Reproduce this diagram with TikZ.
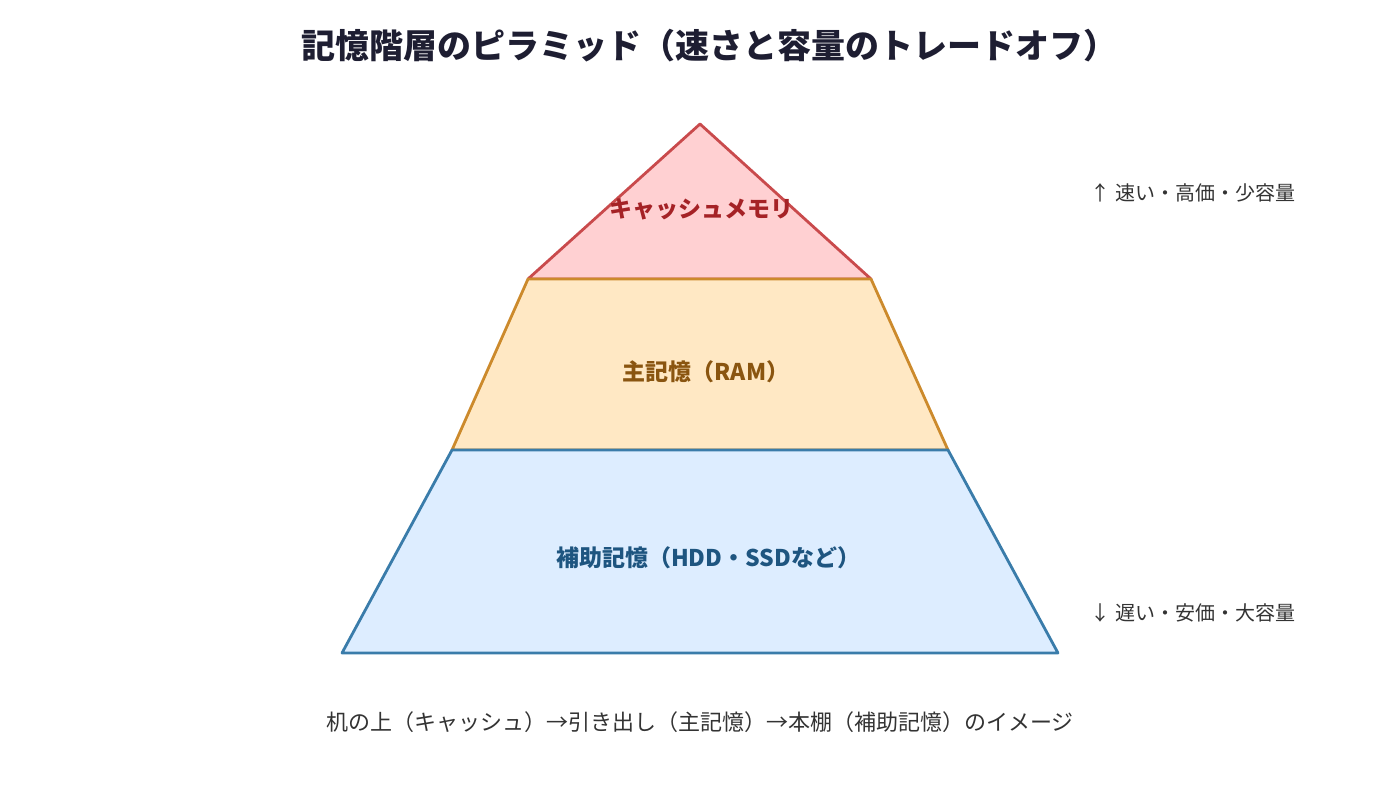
\documentclass[tikz,border=0pt]{standalone}
\usepackage{fontspec}
\setmainfont{Noto Sans CJK JP}
\usetikzlibrary{positioning, calc}

\definecolor{cacheline}{HTML}{C94A4C}
\definecolor{cachefill}{HTML}{FFD0D2}
\definecolor{cachetext}{HTML}{A52226}
\definecolor{ramline}{HTML}{CC8A2C}
\definecolor{ramfill}{HTML}{FFE8C4}
\definecolor{ramtext}{HTML}{8A5510}
\definecolor{diskline}{HTML}{3A7CAA}
\definecolor{diskfill}{HTML}{DDEDFF}
\definecolor{disktext}{HTML}{1E5580}
\definecolor{titletext}{HTML}{1E1E32}
\definecolor{notetext}{HTML}{333333}

\tikzset{
  layer/.style={line width=2.8pt, line join=round},
  layerlabel/.style={font=\fontsize{23}{27}\selectfont\bfseries},
  note/.style={font=\fontsize{20}{24}\selectfont, text=notetext}
}

\begin{document}
\begin{tikzpicture}[x=1pt, y=-1pt]
\useasboundingbox (0,0) rectangle (1400,809);

% タイトル
\node[font=\fontsize{34}{40}\selectfont\bfseries, text=titletext] (title) at (709,46) {記憶階層のピラミッド（速さと容量のトレードオフ）};

% ピラミッドの各層
\foreach \ln/\fl/\pts in {cacheline/cachefill/{(700,124) -- (871,279) -- (528,279)},
                          ramline/ramfill/{(528,279) -- (871,279) -- (948,450) -- (452,450)},
                          diskline/diskfill/{(452,450) -- (948,450) -- (1058,653) -- (342,653)}} {
  \draw[layer, draw=\ln, fill=\fl] \pts -- cycle;
}

% 層のラベル
\node[layerlabel, text=cachetext] (cache) at (701,209) {キャッシュメモリ};
\node[layerlabel, text=ramtext] (ram) at (706,372) {主記憶（RAM）};
\node[layerlabel, text=disktext] (disk) at (708,558) {補助記憶（HDD・SSDなど）};

% 右側の注記
\node[note] (fast) at (1193,193) {↑ 速い・高価・少容量};
\node[note] (slow) at (1193,613) {↓ 遅い・安価・大容量};

% 下の説明
\node[note, font=\fontsize{22}{26}\selectfont] (caption) at (700,722) {机の上（キャッシュ）→引き出し（主記憶）→本棚（補助記憶）のイメージ};

\end{tikzpicture}
\end{document}
